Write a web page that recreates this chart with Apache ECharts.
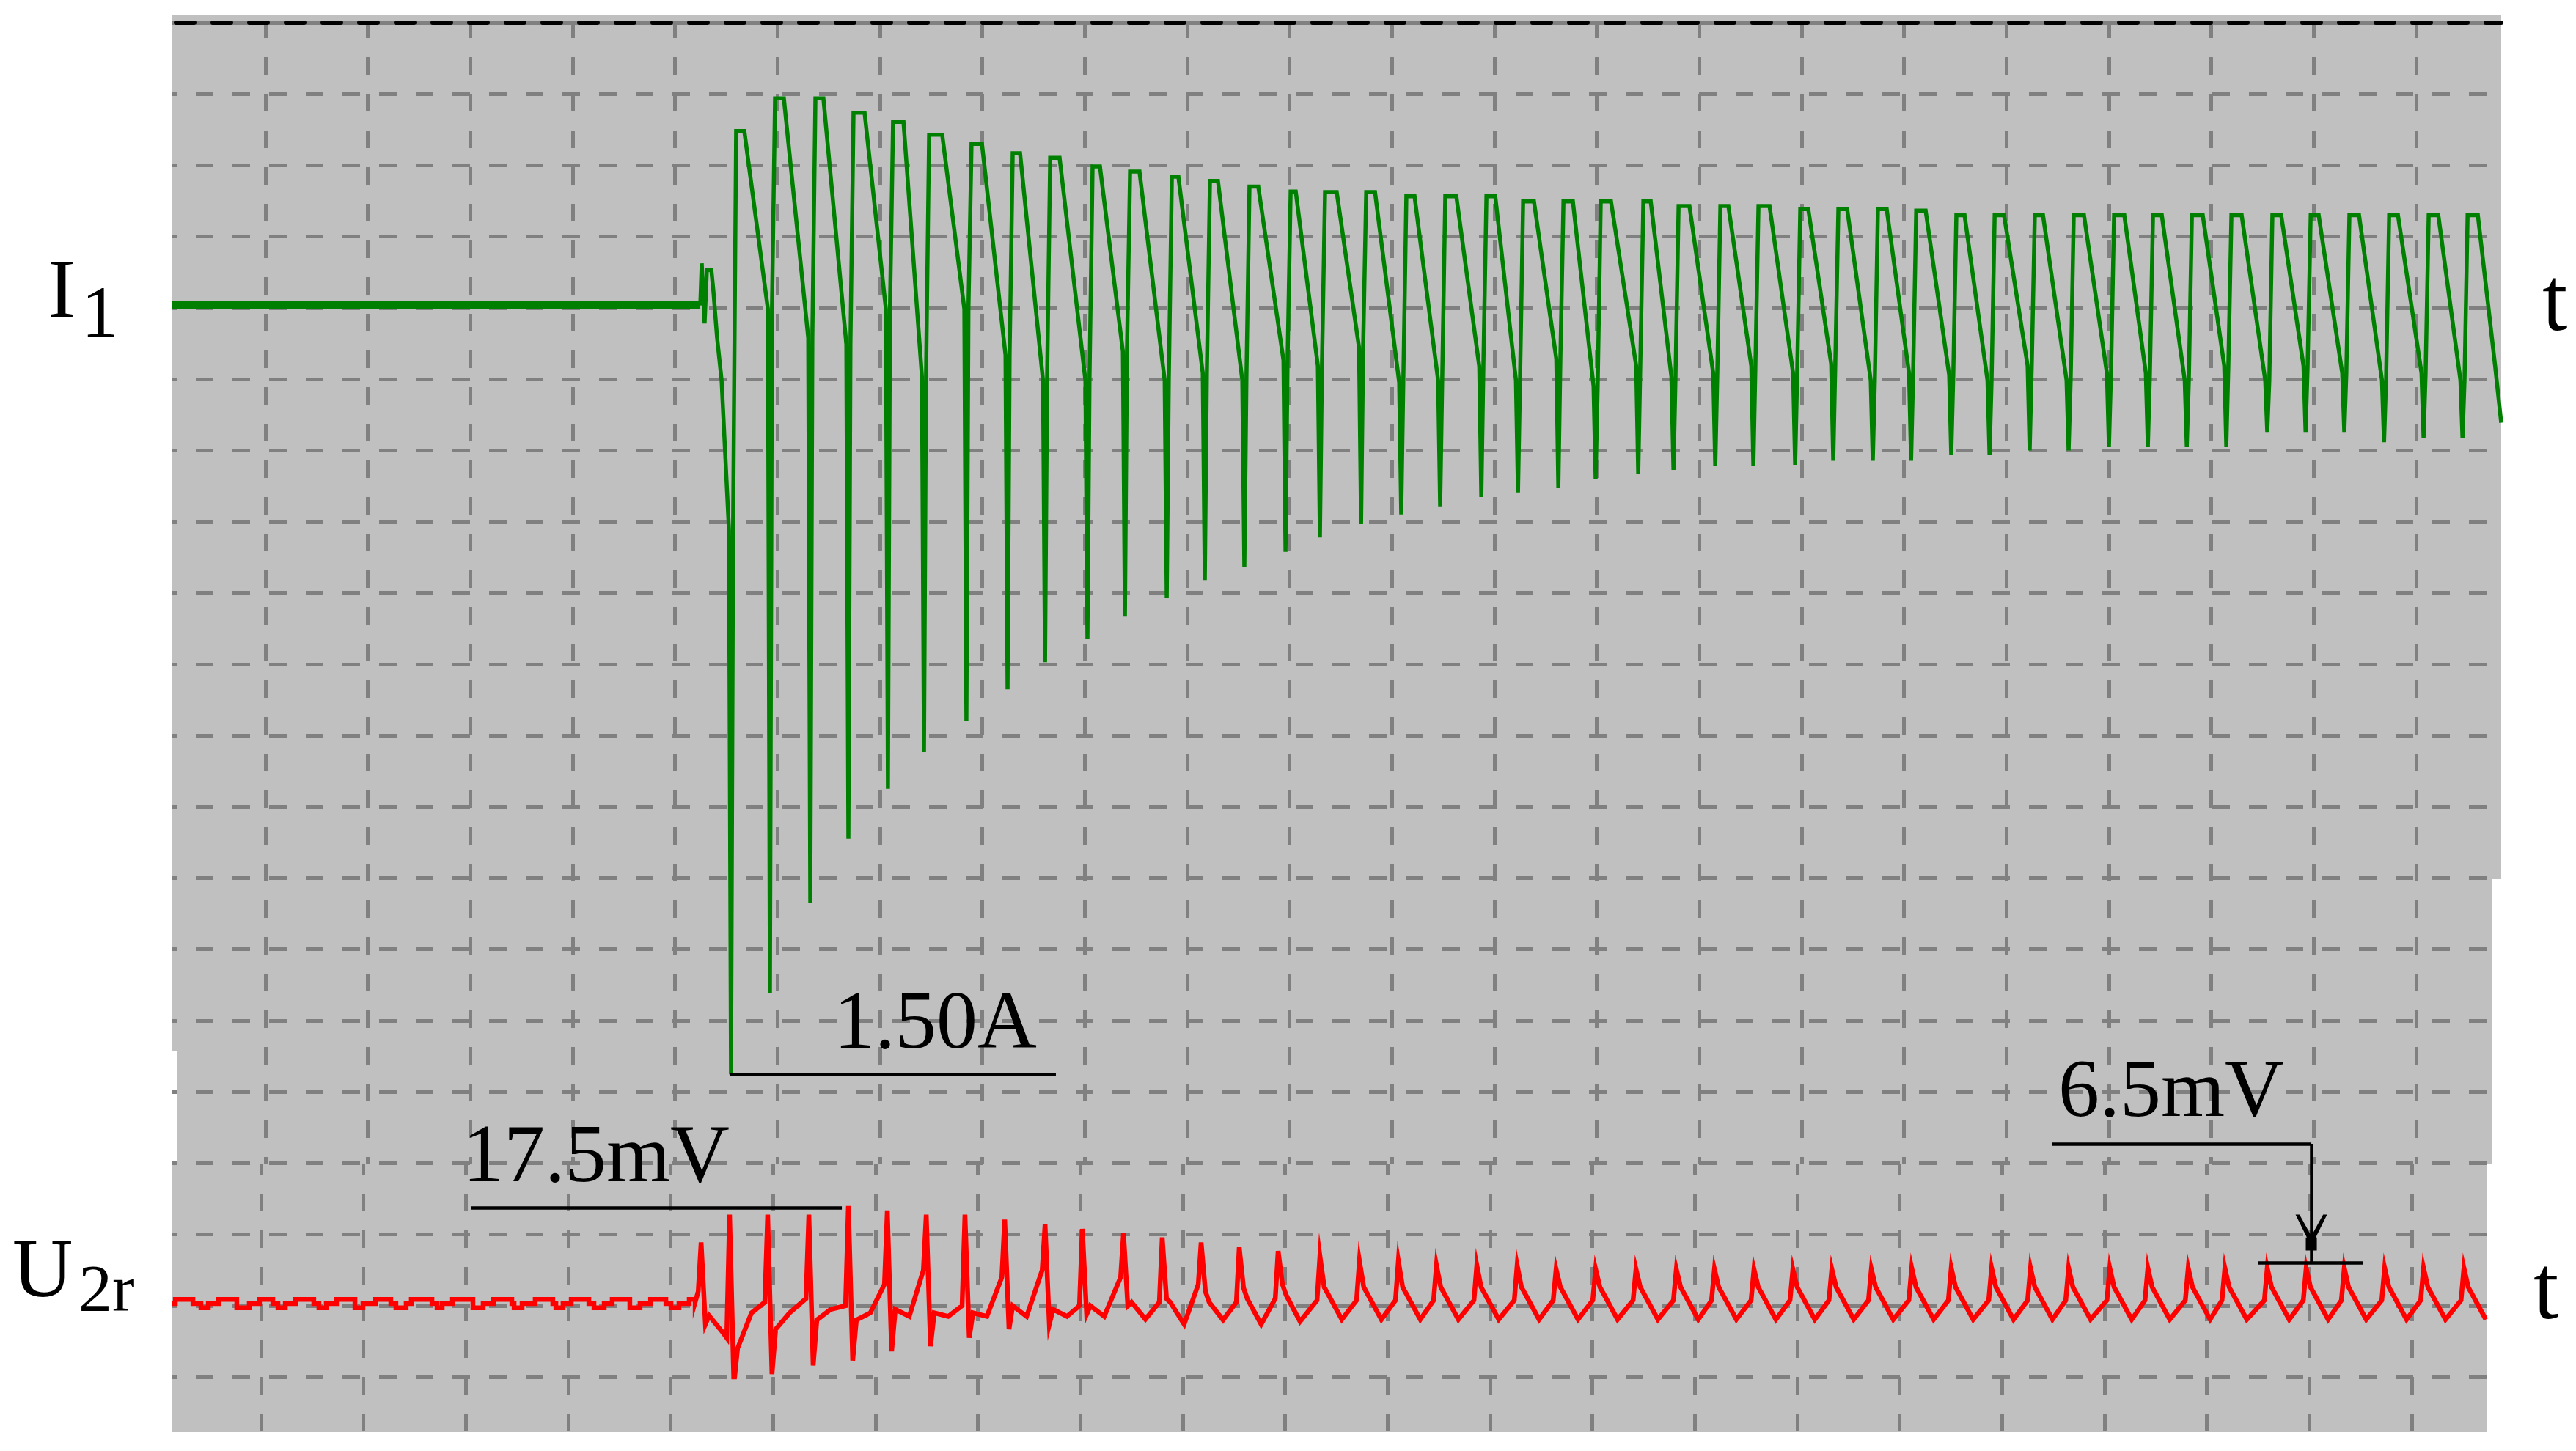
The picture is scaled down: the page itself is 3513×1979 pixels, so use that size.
<!DOCTYPE html>
<html>
<head>
<meta charset="utf-8">
<title>I1 / U2r</title>
<script src="https://cdn.jsdelivr.net/npm/echarts@6/dist/echarts.min.js"></script>
<style>
  html, body { margin: 0; padding: 0; background: #fff; }
  #chart { width: 3513px; height: 1979px; }
</style>
</head>
<body>
<div id="chart"></div>
<script>
// time in ms (one grid division = 50 ms), I1 in A, U2r in mV

// I1 before the switching moment
const i1PreT = [-45.82, 212.3];
const i1PreA = [0, 0];
// small blip at switch-on
const i1OnsetT = [212.3, 213.0, 214.4, 215.5, 217.7, 218.7, 220.5, 222.7];
const i1OnsetA = [0, 0.082, -0.035, 0.069, 0.069, 0.028, -0.063, -0.146];
// one entry per mains period: negative spike, level around the spike, positive peak
const i1SpikeT = [227.3, 246.3, 266.0, 284.6, 303.9, 321.5, 342.2, 362.3, 380.6, 401.3, 419.6, 440.0, 458.6, 477.9, 498.0,
  514.8, 534.9, 554.5, 573.5, 593.6, 611.5, 631.2, 649.4, 670.2, 687.4, 707.8, 726.4, 746.8, 765.4, 784.7,
  803.4, 823.0, 841.7, 861.3, 880.3, 900.0, 919.0, 938.0, 957.3, 977.3, 996.0, 1014.9, 1034.3, 1053.6, 1072.6];
const i1SpikeA = [-1.500, -1.342, -1.165, -1.040, -0.943, -0.871, -0.811, -0.749, -0.696, -0.651, -0.606, -0.571, -0.536, -0.510, -0.481,
  -0.453, -0.426, -0.408, -0.392, -0.374, -0.365, -0.356, -0.338, -0.329, -0.321, -0.313, -0.313, -0.311, -0.303, -0.303,
  -0.303, -0.292, -0.292, -0.283, -0.283, -0.275, -0.275, -0.275, -0.275, -0.247, -0.247, -0.247, -0.267, -0.258, -0.258];
const i1KneeA = [-0.438, -0.007, -0.063, -0.076, -0.007, -0.139, -0.007, -0.097, -0.146, -0.146, -0.090, -0.146, -0.132, -0.146, -0.107,
  -0.118, -0.082, -0.150, -0.146, -0.119, -0.146, -0.104, -0.158, -0.118, -0.139, -0.132, -0.118, -0.132, -0.114, -0.146,
  -0.132, -0.136, -0.146, -0.118, -0.146, -0.132, -0.132, -0.146, -0.118, -0.146, -0.118, -0.132, -0.146, -0.132, -0.146];
const i1PeakT = [233.8, 253.1, 272.4, 292.5, 311.5, 330.4, 349.8, 368.4, 387.7, 407.4, 426.7, 445.7, 465.0, 484.7, 503.0,
  523.0, 541.7, 561.0, 581.4, 600.4, 619.3, 638.3, 656.9, 676.3, 695.2, 714.2, 734.3, 753.2, 772.2, 791.5,
  810.5, 829.5, 848.8, 867.8, 887.8, 907.5, 925.8, 945.8, 964.8, 984.1, 1002.4, 1022.1, 1041.1, 1060.8, 1080.1];
const i1PeakA = [0.340, 0.404, 0.404, 0.376, 0.358, 0.333, 0.315, 0.297, 0.288, 0.271, 0.261, 0.251, 0.243, 0.232, 0.222,
  0.221, 0.221, 0.213, 0.213, 0.213, 0.203, 0.203, 0.203, 0.203, 0.194, 0.194, 0.194, 0.188, 0.188, 0.188,
  0.185, 0.176, 0.176, 0.176, 0.176, 0.176, 0.176, 0.176, 0.176, 0.176, 0.176, 0.176, 0.176, 0.176, 0.176];
const i1TailT = [1088.5, 1091.5];
const i1TailA = [-0.117, -0.229];

// U2r ripple before switch-on (levels held until the next time)
const u2rPreT = [-45.8, -44.0, -35.4, -31.5, -27.9, -22.9, -14.0, -7.9, -2.9, 3.6, 6.1, 9.7, 14.7, 23.6, 26.1, 29.7, 34.7,
  43.7, 47.6, 53.7, 61.2, 63.7, 68.7, 71.2, 81.3, 83.8, 86.3, 91.3, 101.3, 106.3, 111.3, 120.3, 121.4, 125.3,
  131.7, 140.3, 141.8, 145.3, 149.3, 157.9, 160.4, 165.4, 169.3, 177.9, 182.9, 188.0, 195.5, 198.0, 201.9, 206.9, 209.8];
const u2rPreV = [0, 0.78, 0, -0.78, 0, 0.78, -0.78, 0, 0.78, 0, -0.78, 0, 0.78, 0, -0.78, 0, 0.78,
  -0.78, 0, 0.78, 0, -0.78, 0, 0.78, 0, -0.78, 0, 0.78, -0.78, 0, 0.78, 0, -0.78, 0,
  0.78, 0, -0.78, 0, 0.78, 0, -0.78, 0, 0.78, -0.78, 0, 0.78, 0, -0.78, 0, 0.78, 0.26];
// one entry per period: level before the rise, peak, dip right after, return, lowest level
const u2rPeakT = [212.7, 226.6, 245.2, 265.3, 284.6, 303.6, 322.6, 341.5, 360.9, 380.6, 398.8, 418.9, 437.8, 456.8, 475.4, 494.4,
  514.8, 534.1, 553.1, 571.7, 591.4, 611.1, 630.1, 649.4, 669.1, 688.8, 707.4, 726.7, 745.7, 764.7, 784.0,
  803.7, 823.0, 842.7, 861.7, 880.3, 900.4, 919.0, 938.7, 956.6, 977.3, 996.3, 1014.9, 1034.6, 1053.6, 1073.3];
const u2rPeakV = [11.18, 16.25, 16.25, 16.25, 17.81, 17.03, 16.25, 16.25, 15.34, 14.43, 13.65, 12.87, 12.09, 11.18, 10.27, 9.62,
  8.71, 7.80, 7.80, 7.02, 7.02, 7.02, 6.3, 6.3, 6.3, 6.3, 6.3, 6.3, 6.3, 6.3, 6.3,
  6.5, 6.5, 6.5, 6.5, 6.5, 6.5, 6.5, 6.5, 6.5, 6.5, 6.5, 6.5, 6.5, 6.5, 6.5];
const u2rRiseV = [2.21, -6.24, 0.26, 0.91, -0.39, 3.51, 6.11, -0.39, 4.81, 6.11, -0.39, 4.81, 0.26, 3.51, 0.26, 0.91,
  0.6, 0.6, 0.6, 0.6, 0.6, 0.6, 0.6, 0.6, 0.6, 0.6, 0.6, 0.6, 0.6, 0.6, 0.6,
  0.6, 0.6, 0.6, 0.6, 0.6, 0.6, 0.6, 0.6, 0.6, 0.6, 0.6, 0.6, 0.6, 0.6, 0.6];
const u2rDipV = [-3.77, -14.69, -12.87, -11.31, -10.4, -8.71, -7.80, -6.24, -4.68, -3.77, -1.95, -0.39, 0.91, 2.21, 2.86, 3.51,
  3.0, 3.0, 3.0, 3.0, 3.0, 3.0, 3.0, 3.0, 3.0, 3.0, 3.0, 3.0, 3.0, 3.0, 3.0,
  3.0, 3.0, 3.0, 3.0, 3.0, 3.0, 3.0, 3.0, 3.0, 3.0, 3.0, 3.0, 3.0, 3.0, 3.0];
const u2rRetV = [-2.21, -8.19, -4.68, -2.99, -2.99, -1.04, -1.69, -1.69, -0.39, -1.04, -0.39, 0.26, 0.26, 0.26, 0.91, 1.56,
  1.8, 1.8, 1.8, 1.8, 1.8, 1.8, 1.8, 1.8, 1.8, 1.8, 1.8, 1.8, 1.8, 1.8, 1.8,
  1.8, 1.8, 1.8, 1.8, 1.8, 1.8, 1.8, 1.8, 1.8, 1.8, 1.8, 1.8, 1.8, 1.8, 1.8];
const u2rLowV = [-5.33, -1.69, -1.69, -1.04, -1.69, -2.34, -2.34, -2.34, -2.34, -2.34, -2.34, -2.86, -3.77, -2.99, -3.77, -3.25,
  -2.9, -2.9, -2.9, -2.9, -2.9, -2.9, -2.9, -2.9, -2.9, -2.9, -2.9, -2.9, -2.9, -2.9, -2.9,
  -2.9, -2.9, -2.9, -2.9, -2.9, -2.9, -2.9, -2.9, -2.9, -2.9, -2.9, -2.9, -2.9, -2.9, -2.9];

// annotation leaders [t, value]
const ampLeader = [[226.6, -1.5], [385.9, -1.5]];
const mv175Leader = [[100.6, 17.52], [281.4, 17.52]];
const mv65Leader = [[872.1, 29.17], [998.8, 29.17], [998.8, 7.49]];
const mv65Bar = [[973.0, 7.49], [1024.2, 7.49]];
const mv65Arrow = [998.8, 13.0];

// sample offsets inside one period (ms)
const SPIKE_HALF = 1.0, RISE = 2.5;
const U_PRE = 1.4, U_DIP = 2.1, U_RET = 3.9, U_LOW = 10.7;

const i1Base = i1PreT.map((t, k) => [t, i1PreA[k]]);
const i1Wave = i1OnsetT.map((t, k) => [t, i1OnsetA[k]]);
i1SpikeT.forEach((t, n) => {
  i1Wave.push([t - SPIKE_HALF, i1KneeA[n]], [t, i1SpikeA[n]], [t + SPIKE_HALF, i1KneeA[n]],
    [t + RISE, i1PeakA[n]], [i1PeakT[n], i1PeakA[n]]);
});
i1TailT.forEach((t, k) => i1Wave.push([t, i1TailA[k]]));

const u2rWave = [];
u2rPreT.forEach((t, k) => {
  if (k > 0) u2rWave.push([t, u2rPreV[k - 1]]);
  u2rWave.push([t, u2rPreV[k]]);
});
u2rPeakT.forEach((t, n) => {
  u2rWave.push([t - U_PRE, u2rRiseV[n]], [t, u2rPeakV[n]], [t + U_DIP, u2rDipV[n]],
    [t + U_RET, u2rRetV[n]], [t + U_LOW, u2rLowV[n]]);
});

const FONT = 'Liberation Serif';
const GRID_GRAY = '#808080';
const seg = pts => pts.slice(1).map((p, k) => [{ coord: pts[k] }, { coord: p }]);

function txt(x, y, s, size) {
  return {
    type: 'text', x: x, y: y, z: 20,
    style: { text: s, fill: '#000', font: size + 'px "' + FONT + '"',
      align: 'left', verticalAlign: 'middle', textAlign: 'left', textVerticalAlign: 'middle' }
  };
}
function panel(x, y, w, h) {
  return { type: 'rect', z: -10, shape: { x: x, y: y, width: w, height: h }, style: { fill: '#c0c0c0' } };
}
const hidden = { show: false };
function gridLines(offset) {
  return { show: true, lineStyle: { color: GRID_GRAY, width: 5, type: [24, 26], dashOffset: offset } };
}

const chart = echarts.init(document.getElementById('chart'));
chart.setOption({
  backgroundColor: '#fff',
  animation: false,
  grid: [
    { left: 234, top: 33, width: 3177, height: 1845 },   // data
    { left: 234, top: 31, width: 3177, height: 1847 },   // horizontal grid
    { left: 362, top: 31, width: 2933, height: 1557 },   // vertical grid, upper strip
    { left: 356, top: 1588, width: 2933, height: 365 }   // vertical grid, lower strip
  ],
  xAxis: [
    { gridIndex: 0, type: 'value', min: -45.82, max: 1091.5, show: false },
    { gridIndex: 1, type: 'value', min: 0, max: 1, position: 'top',
      axisLine: { show: true, lineStyle: { color: '#000', width: 6, type: [25, 25], dashOffset: 44 } },
      axisTick: hidden, axisLabel: hidden, splitLine: hidden },
    { gridIndex: 2, type: 'value', min: 0, max: 21, interval: 1,
      axisLine: hidden, axisTick: hidden, axisLabel: hidden, splitLine: gridLines(3) },
    { gridIndex: 3, type: 'value', min: 0, max: 21, interval: 1,
      axisLine: hidden, axisTick: hidden, axisLabel: hidden, splitLine: gridLines(10) }
  ],
  yAxis: [
    { gridIndex: 0, type: 'value', min: -2.09045, max: 0.54866, show: false },
    { gridIndex: 0, type: 'value', min: -13.39, max: 233.61, show: false },
    { gridIndex: 1, type: 'value', min: 0, max: 19, interval: 1, inverse: true,
      axisLine: hidden, axisTick: hidden, axisLabel: hidden, splitLine: gridLines(17) },
    { gridIndex: 2, type: 'value', min: 0, max: 1, show: false },
    { gridIndex: 3, type: 'value', min: 0, max: 1, show: false }
  ],
  graphic: [
    panel(234, 21, 3177, 1178),
    panel(234, 1199, 3165, 235),
    panel(242, 1434, 3157, 154),
    panel(235, 1588, 3157, 365),
    txt(65, 402, 'I', 114),
    txt(111, 433, '1', 100),
    txt(17, 1738, 'U', 114),
    txt(107, 1764, '2r', 92),
    txt(3467, 417, 't', 124),
    txt(3455, 1765, 't', 124),
    txt(1137, 1400, '1.50A', 112),
    txt(631, 1582, '17.5mV', 112),
    txt(2807, 1493, '6.5mV', 112)
  ],
  series: [
    {
      name: 'I1 pre', type: 'line', xAxisIndex: 0, yAxisIndex: 0, data: i1Base,
      symbol: 'none', silent: true, z: 3,
      lineStyle: { color: '#008000', width: 11 }
    },
    {
      name: 'I1', type: 'line', xAxisIndex: 0, yAxisIndex: 0, data: i1Wave,
      symbol: 'none', silent: true, z: 3,
      lineStyle: { color: '#008000', width: 5.5, join: 'miter' },
      markLine: {
        silent: true, symbol: 'none', animation: false, label: { show: false },
        lineStyle: { color: '#000', width: 5, type: 'solid' },
        data: seg(ampLeader)
      }
    },
    {
      name: 'U2r', type: 'line', xAxisIndex: 0, yAxisIndex: 1, data: u2rWave,
      symbol: 'none', silent: true, z: 3,
      lineStyle: { color: '#ff0000', width: 6.5, join: 'miter' },
      markLine: {
        silent: true, symbol: 'none', animation: false, label: { show: false },
        lineStyle: { color: '#000', width: 4.5, type: 'solid' },
        data: seg(mv175Leader).concat(seg(mv65Leader), seg(mv65Bar))
      },
      markPoint: {
        silent: true, animation: false, label: { show: false },
        symbol: 'path://M0 0 L5 0 L20 30 L35 0 L40 0 L23 38 L17 38 Z M13 32 L27 32 L27 50 L13 50 Z',
        symbolSize: [43, 49], itemStyle: { color: '#000' },
        data: [{ coord: mv65Arrow }]
      }
    }
  ]
});
</script>
</body>
</html>
